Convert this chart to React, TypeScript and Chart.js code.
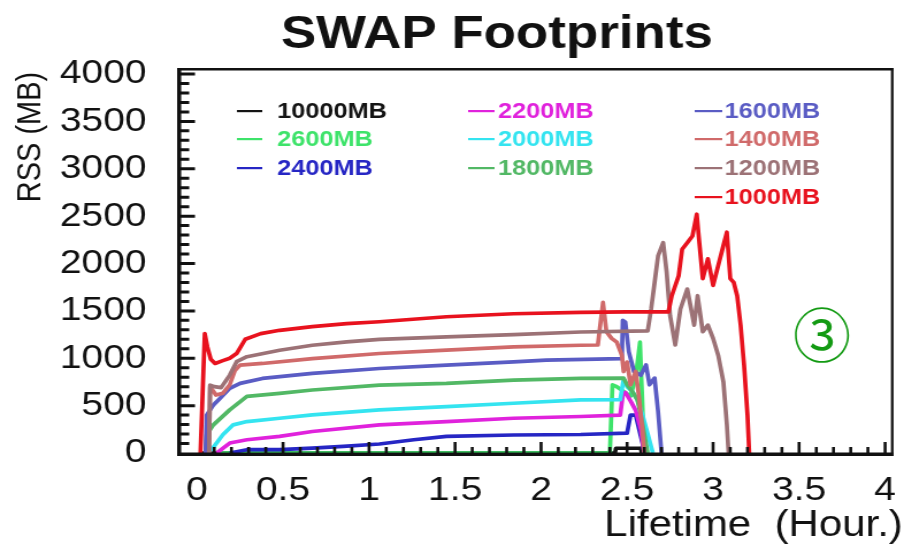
import React, { useEffect, useRef } from 'react';
import { Chart, registerables } from 'chart.js';

Chart.register(...registerables);

// ---------------- data ----------------
const seriesLabels = ['10000MB', '2600MB', '2400MB', '2200MB', '2000MB', '1800MB', '1600MB', '1400MB', '1200MB', '1000MB'];
const seriesColors = ['#141414', '#3ee36a', '#2626c4', '#e022dc', '#34e4f0', '#52b865', '#5a5cc4', '#d06a6a', '#9c7276', '#e8121e'];

const xTickValues = [0, 0.5, 1, 1.5, 2, 2.5, 3, 3.5, 4];
const xTickLabels = ['0', '0.5', '1', '1.5', '2', '2.5', '3', '3.5', '4'];
const yTickValues = [0, 500, 1000, 1500, 2000, 2500, 3000, 3500, 4000];
const yTickLabels = ['0', '500', '1000', '1500', '2000', '2500', '3000', '3500', '4000'];
const xMinorStep = 0.1;
const yMinorStep = 100;

// lifetime (hours) and RSS (MB) for every run
const t10000 = [0.03, 2.43, 2.435, 2.58, 2.585];
const r10000 = [0, 0, 50, 50, 0];

const t2600 = [0.12, 2.4, 2.415, 2.44, 2.48, 2.52, 2.55, 2.575, 2.585, 2.6];
const r2600 = [0, 0, 720, 700, 650, 600, 800, 1170, 700, 0];

const t2400 = [0.19, 0.29, 0.48, 0.67, 0.85, 1.06, 1.26, 1.45, 1.84, 2.23, 2.5, 2.52, 2.55, 2.57, 2.59, 2.6];
const r2400 = [0, 35, 35, 52, 70, 95, 140, 175, 190, 195, 210, 400, 400, 250, 100, 0];

const t2200 = [0.115, 0.19, 0.29, 0.48, 0.67, 1.06, 1.45, 1.84, 2.23, 2.46, 2.475, 2.49, 2.52, 2.55, 2.58, 2.6];
const r2200 = [0, 105, 140, 175, 227, 297, 332, 367, 385, 400, 612, 640, 550, 450, 250, 0];

const t2000 = [0.06, 0.095, 0.15, 0.21, 0.29, 0.48, 0.67, 1.06, 1.45, 1.84, 2.23, 2.46, 2.48, 2.5, 2.53, 2.56, 2.59, 2.62, 2.65];
const r2000 = [0, 60, 192, 297, 332, 367, 402, 455, 490, 525, 560, 562, 780, 700, 650, 560, 400, 200, 0];

const t1800 = [0.05, 0.056, 0.095, 0.19, 0.29, 0.48, 0.67, 1.06, 1.45, 1.84, 2.23, 2.48, 2.5, 2.53, 2.56, 2.58, 2.6, 2.62];
const r1800 = [0, 192, 297, 455, 597, 630, 665, 717, 735, 770, 787, 790, 720, 650, 560, 400, 200, 0];

const t1600 = [0.05, 0.056, 0.095, 0.13, 0.19, 0.25, 0.38, 0.67, 1.06, 1.45, 1.84, 2.03, 2.47, 2.475, 2.49, 2.51, 2.54, 2.58, 2.61, 2.63, 2.66, 2.68, 2.7];
const r1600 = [0, 400, 507, 570, 682, 735, 787, 840, 892, 927, 962, 980, 997, 1400, 1380, 1070, 860, 820, 930, 720, 790, 440, 0];

const t1400 = [0.07, 0.076, 0.11, 0.15, 0.19, 0.22, 0.25, 0.38, 0.67, 1.06, 1.45, 1.84, 2.23, 2.33, 2.36, 2.38, 2.41, 2.44, 2.47, 2.48, 2.5, 2.52, 2.55, 2.57, 2.59, 2.6];
const r1400 = [0, 700, 612, 630, 720, 870, 927, 945, 997, 1050, 1085, 1120, 1137, 1140, 1590, 1280, 1210, 1170, 1030, 860, 960, 720, 860, 580, 230, 0];

const t1200 = [0.07, 0.076, 0.1, 0.14, 0.19, 0.23, 0.29, 0.48, 0.67, 0.87, 1.06, 1.45, 1.84, 2.23, 2.62, 2.64, 2.66, 2.68, 2.71, 2.73, 2.75, 2.78, 2.81, 2.85, 2.89, 2.91, 2.94, 2.97, 3.0, 3.03, 3.06, 3.08, 3.09];
const r1200 = [0, 717, 700, 690, 822, 964, 1016, 1085, 1137, 1172, 1200, 1225, 1250, 1277, 1290, 1520, 1800, 2080, 2220, 1910, 1450, 1140, 1520, 1730, 1350, 1660, 1280, 1350, 1210, 1030, 750, 300, 0];

const t1000 = [0.02, 0.045, 0.06, 0.08, 0.105, 0.15, 0.19, 0.23, 0.28, 0.37, 0.48, 0.67, 0.87, 1.06, 1.45, 1.84, 2.23, 2.5, 2.74, 2.76, 2.8, 2.82, 2.85, 2.88, 2.905, 2.92, 2.94, 2.97, 3.0, 3.04, 3.08, 3.1, 3.12, 3.14, 3.16, 3.18, 3.2, 3.21];
const r1000 = [0, 1260, 1120, 990, 945, 975, 1000, 1050, 1200, 1260, 1295, 1333, 1365, 1385, 1438, 1470, 1485, 1490, 1490, 1660, 1870, 2150, 2220, 2290, 2520, 2220, 1840, 2050, 1770, 2050, 2330, 1840, 1800, 1660, 1350, 930, 400, 0];

const seriesTimes = [t10000, t2600, t2400, t2200, t2000, t1800, t1600, t1400, t1200, t1000];
const seriesRss = [r10000, r2600, r2400, r2200, r2000, r1800, r1600, r1400, r1200, r1000];

const chartTitle = 'SWAP Footprints';
const xTitle = 'Lifetime  (Hour.)';
const yTitle = 'RSS (MB)';
const markText = '\u2462';

// ---------------- layout ----------------
const SX = 1.15; // the original figure is stretched horizontally
const CW = 786;
const CH = 544;
const FONT = '"Liberation Sans", Arial, Helvetica, sans-serif';
const X_MIN = (180 - 197) / 172;
const X_MAX = (892 - 197) / 172;
const Y_MIN = 0;
const Y_MAX = 4053;

const decor = {
  id: 'decor',
  afterDraw(chart: any) {
    const ctx: CanvasRenderingContext2D = chart.ctx;
    const a = chart.chartArea;
    const xs = chart.scales.x;
    const ys = chart.scales.y;
    const L = a.left, R = a.right, T = a.top, B = a.bottom;
    const K = '#111111';
    ctx.save();

    // frame
    ctx.fillStyle = K;
    ctx.fillRect(L - 2.5, T - 1, R - L + 3.5, 2.5); // top
    ctx.fillRect(R - 1, T - 1, 2.2, B - T + 4); // right
    ctx.fillRect(L - 2.5, T - 1, 3.5, B - T + 4); // left
    ctx.fillRect(L - 2.5, B - 0.5, R - L + 3.5, 3.5); // bottom

    // y ticks (inward, minor every 100, major every 500)
    ctx.strokeStyle = K;
    ctx.lineWidth = 3;
    ctx.beginPath();
    for (let i = 1; i <= 40; i++) {
      const y = ys.getPixelForValue(i * yMinorStep);
      const len = i % 5 === 0 ? 14 : 9;
      ctx.moveTo(L - 1, y);
      ctx.lineTo(L - 1 + len, y);
    }
    ctx.stroke();
    // x ticks (inward, minor every 0.1, major every 0.5)
    ctx.lineWidth = 2.6;
    ctx.beginPath();
    for (let i = 1; i <= 40; i++) {
      const x = xs.getPixelForValue(i * xMinorStep);
      const len = i % 5 === 0 ? 12 : 7;
      ctx.moveTo(x, B + 1);
      ctx.lineTo(x, B + 1 - len);
    }
    ctx.stroke();

    // legend
    const ds = chart.data.datasets;
    const cols = [[0, 1, 2], [3, 4, 5], [6, 7, 8, 9]];
    const lineX0 = [206, 407, 604];
    const lineX1 = [228, 430, 628];
    const textX = [241, 433, 630];
    const rowY = [111, 139, 168, 197];
    ctx.font = `bold 22px ${FONT}`;
    ctx.textBaseline = 'middle';
    ctx.textAlign = 'left';
    cols.forEach((col, c) => {
      col.forEach((idx, r) => {
        const d = ds[idx];
        ctx.fillStyle = d.borderColor;
        ctx.fillRect(lineX0[c], rowY[r] - 1, lineX1[c] - lineX0[c], 2.2);
        ctx.fillText(d.label, textX[c], rowY[r] + 1);
      });
    });

    // title
    ctx.fillStyle = K;
    ctx.font = `bold 46px ${FONT}`;
    ctx.textAlign = 'center';
    ctx.textBaseline = 'alphabetic';
    ctx.fillText(chartTitle, 432, 48);

    // x axis title
    ctx.font = `36.5px ${FONT}`;
    ctx.textAlign = 'right';
    ctx.fillText(xTitle, 785, 536);

    // y axis title
    ctx.save();
    ctx.translate(27, 137);
    ctx.rotate(-Math.PI / 2);
    ctx.font = `29px ${FONT}`;
    ctx.textAlign = 'center';
    ctx.textBaseline = 'middle';
    ctx.fillText(yTitle, 0, 0);
    ctx.restore();

    // circled number annotation (not stretched)
    ctx.save();
    ctx.translate(822 / SX, 335);
    ctx.scale(1 / SX, 1);
    ctx.fillStyle = '#139a13';
    ctx.font = '58px "Noto Sans CJK JP", "DejaVu Sans", sans-serif';
    ctx.textAlign = 'center';
    ctx.textBaseline = 'middle';
    ctx.fillText(markText, 0, 0);
    ctx.restore();

    ctx.restore();
  },
};

export default function App() {
  const ref = useRef<HTMLCanvasElement | null>(null);

  useEffect(() => {
    if (!ref.current) return;
    const datasets = seriesLabels.map((label, i) => ({
      label,
      data: seriesTimes[i].map((t, j) => ({ x: t, y: seriesRss[i][j] })),
      borderColor: seriesColors[i],
      backgroundColor: seriesColors[i],
      borderWidth: 3.7,
      pointRadius: 0,
      tension: 0,
      fill: false,
      borderJoinStyle: 'round' as const,
      order: seriesLabels.length - 1 - i,
    }));

    const chart = new Chart(ref.current, {
      type: 'line',
      data: { datasets },
      plugins: [decor],
      options: {
        animation: false,
        responsive: false,
        devicePixelRatio: 1,
        events: [],
        layout: { padding: { top: 69, right: CW - 892 / SX, left: 0, bottom: 0 } },
        plugins: {
          legend: { display: false },
          tooltip: { enabled: false },
          title: { display: false },
        },
        scales: {
          x: {
            type: 'linear',
            min: X_MIN,
            max: X_MAX,
            grid: { display: false, drawTicks: false },
            border: { display: false },
            afterBuildTicks: (s: any) => {
              s.ticks = xTickValues.map((v) => ({ value: v }));
            },
            afterFit: (s: any) => {
              s.height = CH - 453;
              s.paddingLeft = 0;
              s.paddingRight = 0;
            },
            ticks: {
              autoSkip: false,
              maxRotation: 0,
              padding: 17,
              color: '#111',
              font: { family: FONT, size: 34 },
              callback: (_v: any, i: number) => xTickLabels[i],
            },
          },
          y: {
            type: 'linear',
            min: Y_MIN,
            max: Y_MAX,
            grid: { display: false, drawTicks: false },
            border: { display: false },
            afterBuildTicks: (s: any) => {
              s.ticks = yTickValues.map((v) => ({ value: v }));
            },
            afterFit: (s: any) => {
              s.width = 180 / SX;
              s.paddingTop = 0;
              s.paddingBottom = 0;
            },
            ticks: {
              autoSkip: false,
              padding: 29,
              color: '#111',
              font: { family: FONT, size: 34 },
              callback: (_v: any, i: number) => yTickLabels[i],
            },
          },
        },
      },
    });
    return () => chart.destroy();
  }, []);

  return (
    <div style={{ position: 'absolute', left: 0, top: 0, width: 904, height: 544, background: '#fff' }}>
      <canvas
        ref={ref}
        width={CW}
        height={CH}
        style={{ width: '904px', height: '544px', display: 'block' }}
      />
    </div>
  );
}
